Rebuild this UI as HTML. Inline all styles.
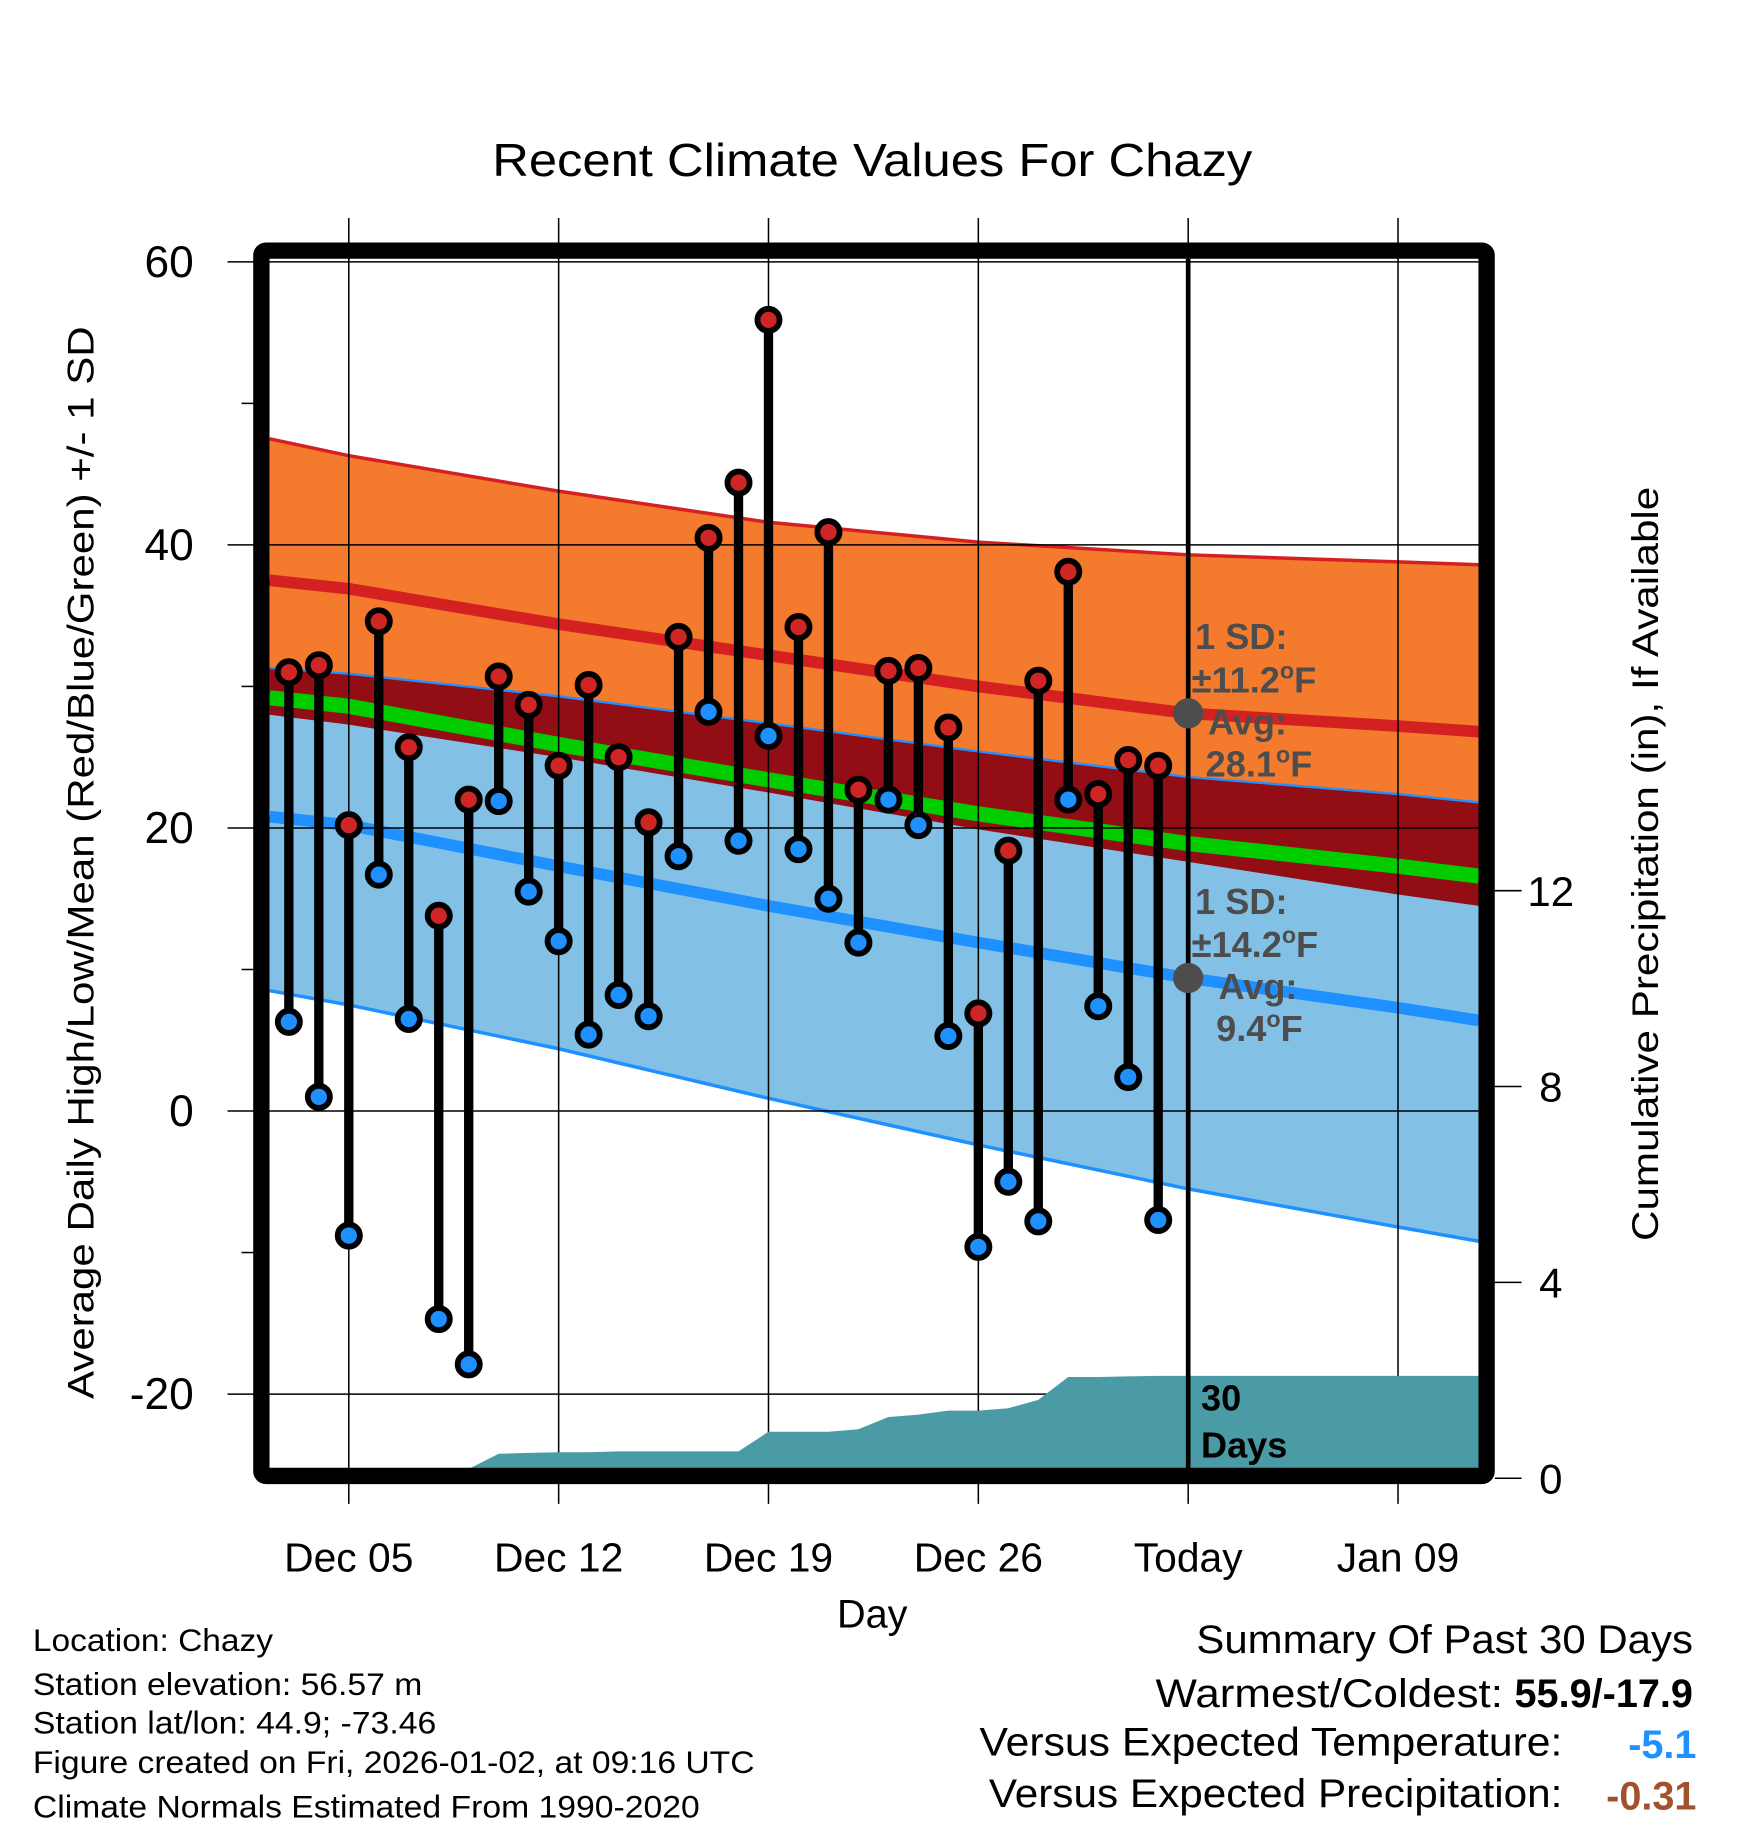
<!DOCTYPE html>
<html><head><meta charset="utf-8">
<style>
html,body{margin:0;padding:0;background:#fff;}
svg{display:block;font-family:"Liberation Sans",Arial,sans-serif;}
</style></head>
<body>
<svg id="chart" width="1748" height="1828" viewBox="0 0 1499 1568" xmlns="http://www.w3.org/2000/svg">
<rect x="0" y="0" width="1499" height="1568" fill="#fff"/>
<text x="748" y="151" font-size="40" text-anchor="middle" textLength="652" lengthAdjust="spacingAndGlyphs">Recent Climate Values For Chazy</text>
<g id="bands"></g>
<g id="grid"></g>
<g id="precip"></g>
<g id="marks"></g>
<g id="annot"></g>
<rect x="224" y="215" width="1051" height="1051" fill="none" stroke="#000" stroke-width="14" rx="4"/>
<g id="axes"></g>
<text transform="translate(80,740) rotate(-90)" font-size="32" text-anchor="middle" textLength="920" lengthAdjust="spacingAndGlyphs">Average Daily High/Low/Mean (Red/Blue/Green) +/- 1 SD</text>
<text transform="translate(1422,741) rotate(-90)" font-size="32" text-anchor="middle" textLength="647" lengthAdjust="spacingAndGlyphs">Cumulative Precipitation (in), If Available</text>
<text x="748" y="1396" font-size="34" text-anchor="middle">Day</text>
<g font-size="27">
<text x="28" y="1416" textLength="206" lengthAdjust="spacingAndGlyphs">Location: Chazy</text>
<text x="28" y="1454" textLength="334" lengthAdjust="spacingAndGlyphs">Station elevation: 56.57 m</text>
<text x="28" y="1487" textLength="346" lengthAdjust="spacingAndGlyphs">Station lat/lon: 44.9; -73.46</text>
<text x="28" y="1521" textLength="619" lengthAdjust="spacingAndGlyphs">Figure created on Fri, 2026-01-02, at 09:16 UTC</text>
<text x="28" y="1559" textLength="572" lengthAdjust="spacingAndGlyphs">Climate Normals Estimated From 1990-2020</text>
</g>
<g font-size="34">
<text x="1026" y="1418" textLength="426" lengthAdjust="spacingAndGlyphs">Summary Of Past 30 Days</text>
<text x="991" y="1464" textLength="298" lengthAdjust="spacingAndGlyphs">Warmest/Coldest:</text>
<text x="1452" y="1464" text-anchor="end" font-weight="bold">55.9/-17.9</text>
<text x="840" y="1506" textLength="500" lengthAdjust="spacingAndGlyphs">Versus Expected Temperature:</text>
<text x="1455" y="1508" text-anchor="end" font-weight="bold" fill="#1e90ff">-5.1</text>
<text x="848" y="1550" textLength="492" lengthAdjust="spacingAndGlyphs">Versus Expected Precipitation:</text>
<text x="1455" y="1552" text-anchor="end" font-weight="bold" fill="#a0522d">-0.31</text>
</g>
</svg>
<script>
// ---- data ----
const normDays = [-2.64, 0, 7, 14, 21, 28, 35, 37.7]; // days offset from Dec 05
const highUpper = [47.5, 46.3, 43.8, 41.6, 40.2, 39.3, 38.8, 38.6];
const highAvg = [37.5, 36.9, 34.4, 32.2, 30.0, 28.1, 27.2, 26.8];
const highLower = [28.0, 27.3, 25.0, 22.5, 19.9, 17.6, 15.3, 14.5];
const lowUpper = [31.3, 30.9, 29.3, 27.4, 25.4, 23.6, 22.4, 21.8];
const lowAvg = [20.8, 20.2, 17.3, 14.5, 11.9, 9.4, 7.3, 6.4];
const lowLower = [8.5, 7.5, 4.4, 0.9, -2.4, -5.5, -8.2, -9.2];
const meanAvg = [29.2, 28.6, 25.9, 23.4, 21.0, 18.9, 17.3, 16.6];
const obsDays = [-2,-1,0,1,2,3,4,5,6,7,8,9,10,11,12,13,14,15,16,17,18,19,20,21,22,23,24,25,26,27];
const highs = [31.0,31.5,20.2,34.6,25.7,13.8,22.0,30.7,28.7,24.4,30.1,25.0,20.4,33.5,40.5,44.4,55.9,34.2,40.9,22.7,31.1,31.3,27.1,6.9,18.4,30.4,38.1,22.4,24.8,24.4];
const lows = [6.3,1.0,-8.8,16.7,6.5,-14.7,-17.9,21.9,15.5,12.0,5.4,8.2,6.7,18.0,28.2,19.1,26.5,18.5,15.0,11.9,22.0,20.2,5.3,-9.6,-5.0,-7.8,22.0,7.4,2.4,-7.7];
const precip = [0,0,0,0,0.02,0.03,0.05,0.5,0.52,0.53,0.53,0.55,0.55,0.55,0.55,0.55,0.95,0.95,0.95,1.0,1.25,1.3,1.38,1.38,1.43,1.6,2.07,2.07,2.08,2.09];
const xTickDays = [0,7,14,21,28,35];
const xTickLabels = ["Dec 05","Dec 12","Dec 19","Dec 26","Today","Jan 09"];
const yTicks = [60,40,20,0,-20];
const yMinor = [50,30,10,-10];
const y2Ticks = [0,4,8,12];
const todayDay = 28;
const todayHigh = 28.1, todayLow = 9.4, sdHigh = "11.2", sdLow = "14.2";

// ---- scales ----
const X = d => 299 + d*25.714;
const Y = v => 953 - v*12.14;
const Y2 = p => 1268 - p*42;
const NS = "http://www.w3.org/2000/svg";
function mk(tag, parent, attrs){const e=document.createElementNS(NS,tag);for(const k in attrs)e.setAttribute(k,attrs[k]);parent.appendChild(e);return e;}
const bands=document.getElementById('bands'), grid=document.getElementById('grid'),
 pg=document.getElementById('precip'), marks=document.getElementById('marks'),
 annot=document.getElementById('annot'), axes=document.getElementById('axes');

function line(arr){return normDays.map((d,i)=>X(d).toFixed(1)+','+Y(arr[i]).toFixed(1)).join(' ');}
function band(top,bot){
  const a=normDays.map((d,i)=>X(d).toFixed(1)+','+Y(top[i]).toFixed(1));
  const b=normDays.map((d,i)=>X(d).toFixed(1)+','+Y(bot[i]).toFixed(1)).reverse();
  return a.concat(b).join(' ');
}
let e;
e=mk('polygon',bands,{points:band(highUpper,highLower),fill:'#f47a2e'});
 
e=mk('polygon',bands,{points:band(lowUpper,lowLower),fill:'#82c0e6'});
 
e=mk('polygon',bands,{points:band(lowUpper,highLower),fill:'#920d14'});
 
e=mk('polyline',bands,{points:line(highUpper),fill:'none',stroke:'#d42020','stroke-width':3});
 
e=mk('polyline',bands,{points:line(lowUpper),fill:'none',stroke:'#1e90ff','stroke-width':2});
 
e=mk('polyline',bands,{points:line(lowLower),fill:'none',stroke:'#1e90ff','stroke-width':3});
 
e=mk('polyline',bands,{points:line(meanAvg),fill:'none',stroke:'#00cc00','stroke-width':13});
 
e=mk('polyline',bands,{points:line(highAvg),fill:'none',stroke:'#d42020','stroke-width':10});
 
e=mk('polyline',bands,{points:line(lowAvg),fill:'none',stroke:'#1e90ff','stroke-width':10});
 

// grid
yTicks.forEach(v=>{
  e=mk('line',grid,{x1:195,x2:1268,y1:Y(v),y2:Y(v),stroke:'#000','stroke-width':1.3});
   
  e=mk('text',axes,{x:166,y:Y(v)+13,'font-size':38,'text-anchor':'end'}); e.textContent=v;
   
});
yMinor.forEach(v=>{
  e=mk('line',axes,{x1:207,x2:218,y1:Y(v),y2:Y(v),stroke:'#000','stroke-width':1.3});
   
});
xTickDays.forEach((d,i)=>{
  e=mk('line',grid,{x1:X(d),x2:X(d),y1:187,y2:1290,stroke:'#000','stroke-width':1.3});
   
  e=mk('text',axes,{x:X(d),y:1348,'font-size':35,'text-anchor':'middle'}); e.textContent=xTickLabels[i];
   
});
y2Ticks.forEach(p=>{
  e=mk('line',axes,{x1:1282,x2:1305,y1:Y2(p),y2:Y2(p),stroke:'#000','stroke-width':1.3});
   
  e=mk('text',axes,{x:1330,y:Y2(p)+13,'font-size':36,'text-anchor':'middle'}); e.textContent=p;
   
});

// precip area
{
  const pts=[[231,Y2(0)],[231,Y2(precip[0])]];
  obsDays.forEach((d,i)=>pts.push([X(d),Y2(precip[i])]));
  const last=precip[precip.length-1];
  pts.push([X(todayDay),Y2(last)],[1268,Y2(last)],[1268,Y2(0)]);
  e=mk('polygon',pg,{points:pts.map(p=>p[0].toFixed(1)+','+Math.min(p[1],1260).toFixed(1)).join(' '),fill:'#4a9ba5'});
   
}

// today line
e=mk('line',annot,{x1:X(todayDay),x2:X(todayDay),y1:222,y2:1262,stroke:'#000','stroke-width':4});
 

// observations
obsDays.forEach((d,i)=>{
  const g=mk('g',marks,{});
   
  e=mk('line',g,{x1:X(d),x2:X(d),y1:Y(highs[i]),y2:Y(lows[i]),stroke:'#000','stroke-width':8});
   
  e=mk('circle',g,{cx:X(d),cy:Y(highs[i]),r:9.5,fill:'#d02525',stroke:'#000','stroke-width':5});
   
  e=mk('circle',g,{cx:X(d),cy:Y(lows[i]),r:9.5,fill:'#1e90ff',stroke:'#000','stroke-width':5});
   
});

// annotations
function atext(x,y,parts,name,fill){
  const t=mk('text',annot,{x:x,y:y,'font-size':31,'font-weight':'bold',fill:fill});
   
  parts.forEach(p=>{const s=mk('tspan',t,p.sup?{'font-size':20,dy:-12}:(p.down?{dy:12}:{}));s.textContent=p.t;});
  return t;
}
const tx=X(todayDay);
e=mk('circle',annot,{cx:tx,cy:Y(todayHigh),r:13,fill:'#4d4d4d'});
 
e=mk('circle',annot,{cx:tx,cy:Y(todayLow),r:13,fill:'#4d4d4d'});
 
const gy=Y(todayHigh), ly=Y(todayLow);
atext(tx+6,gy-55,[{t:'1 SD:'}],'high-sd-label','#4d4d4d');
atext(tx+3,gy-18,[{t:'±'+sdHigh},{t:'o',sup:true},{t:'F',down:true}],'high-sd-value','#4d4d4d');
atext(tx+17,gy+18,[{t:'Avg:'}],'high-avg-label','#4d4d4d');
atext(tx+15,gy+54,[{t:todayHigh.toFixed(1)},{t:'o',sup:true},{t:'F',down:true}],'high-avg-value','#4d4d4d');
atext(tx+6,ly-55,[{t:'1 SD:'}],'low-sd-label','#4d4d4d');
atext(tx+3,ly-18,[{t:'±'+sdLow},{t:'o',sup:true},{t:'F',down:true}],'low-sd-value','#4d4d4d');
atext(tx+26,ly+18,[{t:'Avg:'}],'low-avg-label','#4d4d4d');
atext(tx+24,ly+54,[{t:todayLow.toFixed(1)},{t:'o',sup:true},{t:'F',down:true}],'low-avg-value','#4d4d4d');
atext(tx+11,1210,[{t:'30'}],'days-count','#000');
atext(tx+11,1250,[{t:'Days'}],'days-label','#000');
</script>
</body></html>
